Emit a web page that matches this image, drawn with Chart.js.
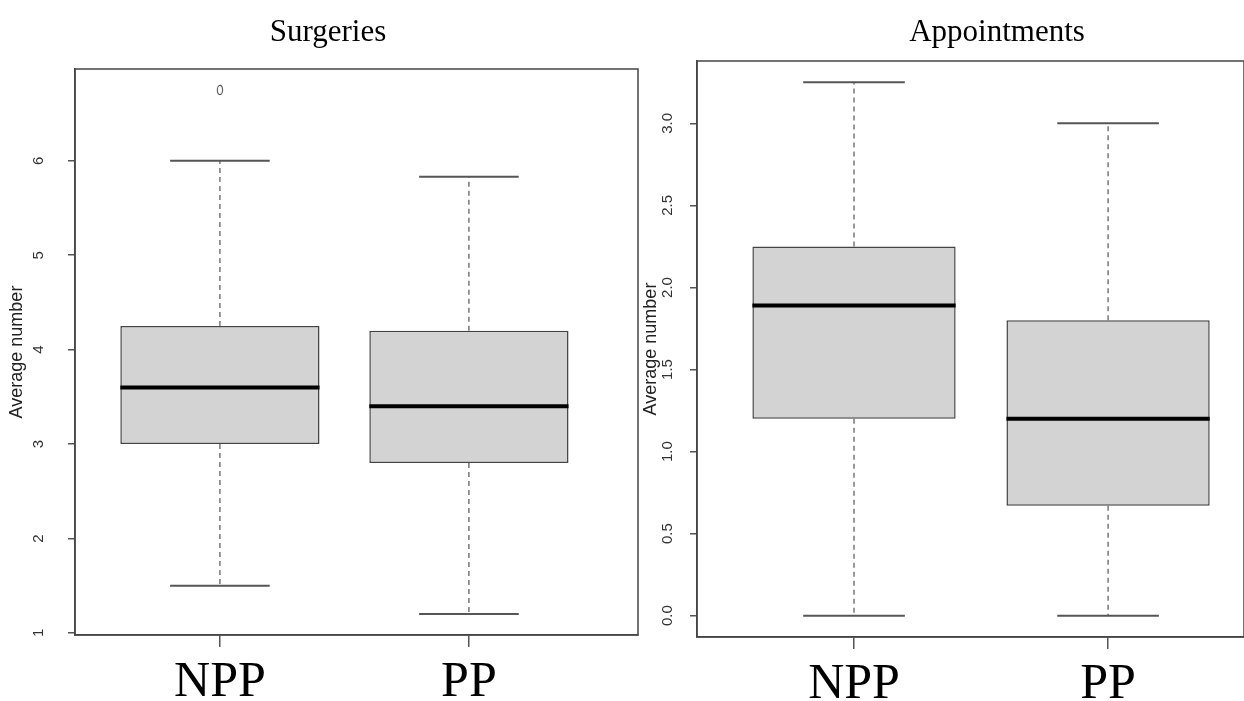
<!DOCTYPE html>
<html>
<head>
<meta charset="utf-8">
<script src="https://cdn.jsdelivr.net/npm/chart.js@4.4.0/dist/chart.umd.min.js"></script>
<style>
  html, body { margin: 0; padding: 0; background: #fff; }
  body { width: 1244px; height: 701px; position: relative; overflow: hidden; }
  .panel { position: absolute; top: 0; height: 701px; }
  #surgPanel { left: 0; width: 644px; }
  #apptPanel { left: 640px; width: 604px; }
</style>
</head>
<body>
<div class="panel" id="surgPanel"><canvas id="surgChart"></canvas></div>
<div class="panel" id="apptPanel"><canvas id="apptChart"></canvas></div>
<script>
const groups = ['NPP', 'PP'];

// Surgeries - five number summary per group
const surgMin = [1.5, 1.2];
const surgQ1 = [3.0, 2.8];
const surgMedian = [3.6, 3.4];
const surgQ3 = [4.25, 4.2];
const surgMax = [6.0, 5.83];
const surgOutliers = [[6.75], []];
const surgTicks = [1, 2, 3, 4, 5, 6];

// Appointments
const apptMin = [0, 0];
const apptQ1 = [1.2, 0.67];
const apptMedian = [1.89, 1.2];
const apptQ3 = [2.25, 1.8];
const apptMax = [3.25, 3.0];
const apptOutliers = [[], []];
const apptTicks = [0, 0.5, 1.0, 1.5, 2.0, 2.5, 3.0];

const BOX_HALF = 0.4;   // half box width, in group units
const CAP_HALF = 0.2;   // half whisker cap width

// little open ellipse, like R's pch=1 on this stretched device
const ring = document.createElement('canvas');
ring.width = 8; ring.height = 12;
(function () {
  const c = ring.getContext('2d');
  c.strokeStyle = '#555';
  c.lineWidth = 1.1;
  c.beginPath();
  c.ellipse(4, 6, 2.6, 4.6, 0, 0, Math.PI * 2);
  c.stroke();
})();

// draws the full box() frame and the panel title
const framePlugin = {
  id: 'rFrame',
  afterDraw(chart, args, opts) {
    const { ctx, chartArea: a } = chart;
    ctx.save();
    ctx.strokeStyle = '#444';
    ctx.lineWidth = 1.5;
    ctx.strokeRect(a.left, a.top, a.right - a.left, a.bottom - a.top);
    ctx.fillStyle = '#000';
    ctx.font = '31px "Liberation Serif", "Times New Roman", serif';
    ctx.textAlign = 'center';
    ctx.textBaseline = 'alphabetic';
    ctx.fillText(opts.text, opts.x, opts.y);
    ctx.restore();
  }
};

function makeBoxChart(id, s) {
  const medians = [], whiskers = [], caps = [], outliers = [], boxes = [];
  groups.forEach(function (g, i) {
    const x = i + 1;
    medians.push({ x: x - BOX_HALF, y: s.median[i] }, { x: x + BOX_HALF, y: s.median[i] }, { x: x, y: null });
    whiskers.push({ x: x, y: s.q3[i] }, { x: x, y: s.max[i] }, { x: x, y: null },
                  { x: x, y: s.q1[i] }, { x: x, y: s.min[i] }, { x: x, y: null });
    caps.push({ x: x - CAP_HALF, y: s.max[i] }, { x: x + CAP_HALF, y: s.max[i] }, { x: x, y: null },
              { x: x - CAP_HALF, y: s.min[i] }, { x: x + CAP_HALF, y: s.min[i] }, { x: x, y: null });
    s.outliers[i].forEach(function (v) { outliers.push({ x: x, y: v }); });
    boxes.push({ x: x, y: [s.q1[i], s.q3[i]] });
  });

  // R's default 4% extension of the data range
  const all = s.min.concat(s.max, [].concat.apply([], s.outliers));
  const lo = Math.min.apply(null, all), hi = Math.max.apply(null, all);
  const ext = (hi - lo) * 0.04;

  return new Chart(document.getElementById(id), {
    type: 'bar',
    data: {
      datasets: [
        { type: 'line', data: medians, borderColor: '#000', borderWidth: 4, pointRadius: 0 },
        { type: 'line', data: caps, borderColor: '#555', borderWidth: 2, pointRadius: 0 },
        { type: 'line', data: whiskers, borderColor: '#555', borderWidth: 1.2, borderDash: [5, 4], pointRadius: 0 },
        { type: 'scatter', data: outliers, pointStyle: ring, pointRadius: 5 },
        { type: 'bar', data: boxes, backgroundColor: '#d3d3d3', borderColor: '#444', borderWidth: 1.5,
          borderSkipped: false, categoryPercentage: 1, barPercentage: 0.8 }
      ]
    },
    options: {
      responsive: true,
      maintainAspectRatio: false,
      animation: false,
      layout: { padding: { top: s.top, right: s.right, bottom: 0, left: 0 } },
      plugins: {
        legend: { display: false },
        tooltip: { enabled: false },
        rFrame: { text: s.title, x: s.titleX, y: 41 }
      },
      scales: {
        x: {
          type: 'linear',
          min: s.xMin,
          max: s.xMax,
          offset: false,
          afterBuildTicks: function (axis) { axis.ticks = groups.map(function (g, i) { return { value: i + 1 }; }); },
          afterFit: function (axis) { axis.height = 701 - s.bottom; },
          ticks: {
            autoSkip: false,
            maxRotation: 0,
            padding: 6,
            color: '#000',
            font: { family: '"Liberation Serif", "Times New Roman", serif', size: 50 },
            callback: function (v, i) { return groups[i]; }
          },
          grid: { offset: false, drawOnChartArea: false, tickLength: 12, color: '#555', lineWidth: 1.5 },
          border: { display: true, color: '#444', width: 1.5 }
        },
        y: {
          type: 'linear',
          min: lo - ext,
          max: hi + ext,
          afterBuildTicks: function (axis) { axis.ticks = s.ticks.map(function (v) { return { value: v }; }); },
          afterFit: function (axis) { axis.width = s.left; },
          ticks: {
            minRotation: 90,
            maxRotation: 90,
            crossAlign: 'center',
            padding: s.tickPad,
            color: '#333',
            font: { family: '"Liberation Sans", Arial, sans-serif', size: 15 },
            callback: function (v) { return s.decimals ? v.toFixed(s.decimals) : String(v); }
          },
          grid: { drawOnChartArea: false, tickLength: 7, color: '#555', lineWidth: 1.5 },
          border: { display: true, color: '#444', width: 1.5 },
          title: {
            display: true,
            text: 'Average number',
            color: '#222',
            font: { family: '"Liberation Sans", Arial, sans-serif', size: 18 },
            padding: { top: s.titlePad, bottom: 0 }
          }
        }
      }
    },
    plugins: [framePlugin]
  });
}

makeBoxChart('surgChart', {
  title: 'Surgeries', titleX: 328,
  min: surgMin, q1: surgQ1, median: surgMedian, q3: surgQ3, max: surgMax, outliers: surgOutliers,
  ticks: surgTicks, decimals: 0,
  xMin: 0.418, xMax: 2.679,
  top: 69, bottom: 635, left: 75, right: 0, tickPad: 25, titlePad: 6
});

makeBoxChart('apptChart', {
  title: 'Appointments', titleX: 357,
  min: apptMin, q1: apptQ1, median: apptMedian, q3: apptQ3, max: apptMax, outliers: apptOutliers,
  ticks: apptTicks, decimals: 1,
  xMin: 0.382, xMax: 2.535,
  top: 61, bottom: 637, left: 57, right: 0, tickPad: 12, titlePad: 0
});
</script>
</body>
</html>
